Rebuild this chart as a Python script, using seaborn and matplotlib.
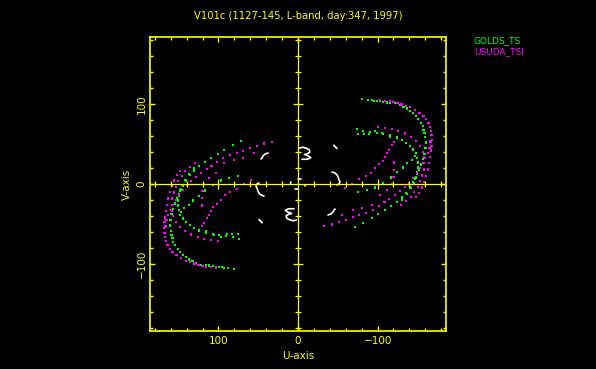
import numpy as np
import pandas as pd
import matplotlib
matplotlib.use("Agg")
import matplotlib.pyplot as plt
import seaborn as sns

# uv points read from the u<0 half of the plot; the other half is the conjugate (-u, -v)
golds_tracks = {
    "g1": ([-80.1, -88.4, -93.5, -96.0, -99.7, -103.1, -107.3, -111.6, -115.7, -122.0, -128.3,
            -132.5, -136.7, -140.9, -145.0, -148.4, -151.3, -154.3, -156.8, -157.7, -158.9, -159.7,
            -160.5, -160.2, -159.0, -157.3, -155.0, -152.5, -150.0, -147.5,
            -145.0, -140.8, -135.7, -130.3, -124.0, -116.5, -109.3, -101.0, -92.6, -82.1, -71.6],
           [105.9, 105.0, 105.0, 103.8, 104.1, 103.8, 102.9, 102.1, 100.9, 100.9, 98.8,
            96.6, 94.6, 91.6, 88.4, 85.0, 80.9, 76.6, 72.5, 67.5, 63.4, 59.1,
            52.0, 45.0, 38.0, 31.0, 24.5, 18.0, 12.5, 7.0,
            2.8, -4.3, -10.9, -16.8, -22.2, -27.6, -32.6, -37.6, -42.6, -48.5, -53.5]),
    "g2": ([-73.7, -82.1, -90.5, -98.9, -107.3, -115.6, -124.0, -130.3, -135.7, -140.8, -145.0,
            -147.9, -150.0, -150.8, -150.8, -150.0, -148.3, -145.8, -142.0, -136.6, -130.3],
           [68.7, 66.6, 65.0, 64.1, 62.4, 60.8, 58.3, 54.9, 51.6, 47.4, 43.3,
            38.3, 32.8, 27.0, 20.7, 14.5, 8.2, 1.6, -5.5, -12.6, -19.3]),
    "g2b": ([-75.5, -83.0, -89.3, -96.9, -105.7, -115.7],
            [62.5, 62.5, 62.5, 66.3, 63.8, 58.8]),
    "g3": ([-75.5, -86.3, -96.8, -107.3, -116.5, -124.8, -131.5, -137.4, -142.9, -147.1],
           [-10.0, -7.6, -4.3, 1.6, 8.2, 14.9, 20.7, 25.8, 29.9, 34.9]),
}

usuda_tracks = {
    "m1": ([-103.1, -109.3, -115.7, -119.9, -125.0, -130.0, -135.5, -140.9, -147.2, -152.6, -157.7,
            -161.0, -163.9, -166.0, -166.9, -168.2, -168.2, -167.7, -167.0, -165.9, -164.7, -163.0,
            -160.9, -158.4, -155.4, -152.1, -148.3],
           [105.0, 104.1, 103.5, 102.9, 101.0, 99.5, 98.0, 96.6, 92.5, 89.1, 85.0,
            80.9, 76.6, 71.6, 66.6, 61.3, 55.0, 48.0, 42.0, 34.1, 25.8, 18.2,
            9.9, 2.8, -4.3, -10.9, -16.0]),
    "m2": ([-101.0, -109.3, -117.7, -126.1, -134.5, -142.0, -148.3, -153.3, -156.7, -158.4, -158.8,
            -158.0, -156.3, -153.8, -150.4, -146.2, -141.6, -135.7, -129.0],
           [71.6, 70.4, 68.7, 66.6, 63.3, 59.1, 53.7, 47.4, 40.3, 33.3, 25.8,
            18.2, 10.7, 3.6, -3.4, -10.1, -16.0, -21.4, -26.4]),
    "m3": ([-167.3, -166.5, -165.2, -163.1, -160.1, -156.8, -153.5, -149.3, -145.0, -140.0, -134.6,
            -128.3, -122.0, -114.8, -108.6, -101.5, -94.0, -85.5, -77.1, -68.8, -60.4, -52.0, -42.8, -33.1],
           [61.7, 53.3, 45.0, 38.8, 32.5, 26.3, 20.0, 13.8, 7.5, 1.2, -4.2,
            -9.2, -14.2, -18.3, -22.5, -27.9, -32.1, -36.3, -39.2, -41.7, -44.6, -47.9, -50.8, -52.9]),
    "m4": ([-59.1, -67.9, -76.7, -85.5, -91.8, -96.9, -101.9, -106.9, -109.4, -111.9, -114.5, -118.2, -120.8],
           [-5.0, 0.0, 6.3, 10.0, 13.8, 20.0, 25.0, 28.8, 33.8, 38.8, 42.5, 48.8, 52.5]),
    "m5": ([-55.3, -69.2, -80.5, -93.0, -103.0, -112.0, -118.0, -120.0, -121.0, -121.0],
           [-38.8, -32.5, -30.0, -26.3, -13.8, -7.5, 0.0, 9.0, 18.0, 27.0]),
}

# short-baseline tracks near the centre (white)
short_tracks = {
    "w1": ([-45.0, -46.5, -48.0, -49.0], [48.5, 47.0, 45.5, 44.5]),
    "w2": ([-2.0, -6.0, -10.0, -14.0, -15.0, -12.0, -8.0, -13.0, -16.0, -12.0, -5.0],
           [45.0, 46.0, 45.0, 43.0, 40.0, 38.0, 37.0, 35.0, 33.0, 31.0, 31.0]),
    "w3": ([-42.8, -46.5, -49.1, -50.3, -51.6, -52.8, -51.6, -49.1],
           [15.0, 13.8, 11.3, 8.8, 5.0, 2.5, 0.0, -1.3]),
    "w4": ([-37.7, -41.5, -44.0, -45.3, -46.5], [-38.8, -37.5, -35.0, -32.5, -31.3]),
    "w5": ([0.0, -4.0], [6.0, 6.0]),
    "w6": ([-8.8, -9.5], [-2.5, -1.0]),
}

title = "V101c (1127-145, L-band, day:347, 1997)"
series_names = ["GOLDS_TS", "USUDA_TSI"]
series_colors = ["#00ff00", "#ff00ff"]


def to_frame(tracks, name):
    rows = []
    for key, (u, v) in tracks.items():
        u = np.array(u)
        v = np.array(v)
        for sign in (1, -1):
            for a, b in zip(sign * u, sign * v):
                rows.append({"u": a, "v": b, "track": key + str(sign), "station": name})
    return pd.DataFrame(rows)


dots = pd.concat([to_frame(golds_tracks, series_names[0]),
                  to_frame(usuda_tracks, series_names[1])])
short = to_frame(short_tracks, "short")

sns.set_style("dark", {"axes.facecolor": "black", "figure.facecolor": "black"})
plt.rcParams["font.family"] = ["DejaVu Sans"]
yellow = "#ffff00"

fig = plt.figure(figsize=(5.96, 3.69), dpi=100)
fig.patch.set_facecolor("black")
ax = fig.add_axes([150 / 596, 38 / 369, 296 / 596, 294 / 369])
ax.set_facecolor("black")

sns.scatterplot(data=dots, x="u", y="v", hue="station", palette=series_colors,
                hue_order=series_names, marker="s", s=2.5, linewidth=0, legend=False, ax=ax)
sns.lineplot(data=short, x="u", y="v", units="track", estimator=None, sort=False,
             color="white", lw=1.2, legend=False, ax=ax)

ax.set_xlim(186, -186)
ax.set_ylim(-184, 184)
ax.grid(False)

major = [-100, 0, 100]
minor = [t for t in range(-180, 181, 20) if t not in major]
ax.set_xticks(major)
ax.set_xticklabels(["100" if t == 100 else ("0" if t == 0 else "\u2212100") for t in major], color=yellow, fontsize=7.5)
ax.set_yticks(major)
ax.set_yticklabels(["\u2212100" if t == -100 else str(t) for t in major], color=yellow, fontsize=7.5,
                   rotation=90, va="center")
ax.set_xticks(minor, minor=True)
ax.set_yticks(minor, minor=True)
ax.tick_params(which="both", direction="in", colors=yellow, top=True, right=True,
               bottom=True, left=True, width=1)
ax.tick_params(which="major", length=3.8)
ax.tick_params(axis="x", which="major", pad=3.5)
ax.tick_params(axis="y", which="major", pad=2.5)
ax.tick_params(which="minor", length=2.5)
for sp in ax.spines.values():
    sp.set_color(yellow)
    sp.set_linewidth(1.2)

# axes through the origin with their own ticks
ax.axhline(0, color=yellow, lw=0.9)
ax.axvline(0, color=yellow, lw=0.9)
ax.plot(minor, [0] * len(minor), ls="", marker="|", ms=5, mew=0.9, color=yellow)
ax.plot([0] * len(minor), minor, ls="", marker="_", ms=5, mew=0.9, color=yellow)
ax.plot([-100, 100], [0, 0], ls="", marker="|", ms=7, mew=0.9, color=yellow)
ax.plot([0, 0], [-100, 100], ls="", marker="_", ms=7, mew=0.9, color=yellow)

ax.set_xlabel("U-axis", color=yellow, fontsize=7.5, labelpad=4)
ax.set_ylabel("V-axis", color=yellow, fontsize=7.5, labelpad=3)
fig.text(298 / 596, 1 - 16 / 369, title, color=yellow, fontsize=7.2, ha="center", va="center")
for i, (name, col) in enumerate(zip(series_names, series_colors)):
    fig.text(474 / 596, 1 - (41 + 11 * i) / 369, name, color=col, fontsize=6.5, ha="left", va="center")

fig.savefig("out.png", dpi=100, facecolor="black")
